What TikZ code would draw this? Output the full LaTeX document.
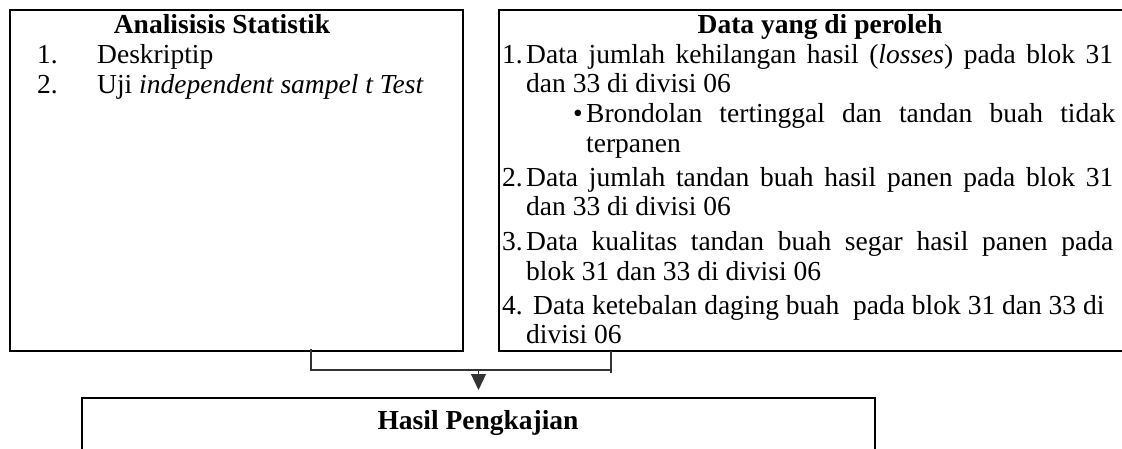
\documentclass[tikz,border=0pt]{standalone}
\usepackage{fontspec}
\setmainfont{Liberation Serif}
\usetikzlibrary{arrows.meta}
\newcommand\fs{\fontsize{27.5}{30}\selectfont}
\tikzset{
  box/.style={draw=black, line width=2pt, rectangle, inner sep=0pt},
  txt/.style={anchor=base west, inner sep=0pt, font=\fs},
  ttl/.style={anchor=base, inner sep=0pt, font=\fs\bfseries},
  conn/.style={draw=black!80, line width=1.2pt},
  arr/.style={conn, -{Triangle[width=15pt,length=16pt]}, shorten >=7pt}
}
\begin{document}
\begin{tikzpicture}[x=1pt,y=-1pt]
\useasboundingbox (0,0) rectangle (1122,448);
% boxes
\node[box, minimum width=453pt, minimum height=341pt] (L) at (236.5,180.5) {};
\node[box, minimum width=642pt, minimum height=341pt] (R) at (820,180.5) {};
\node[box, minimum width=793pt, minimum height=80pt] (B) at (478.5,438) {};
% left text
\node[ttl] (lt) at (222,33) {Analisisis Statistik};
\node[txt] (l1n) at (37,63) {1.};
\node[txt] (l1) at (97,63) {Deskriptip};
\node[txt] (l2n) at (37,93) {2.};
\node[txt] (l2) at (97,93) {Uji \textit{independent sampel t Test}};
% right text
\node[ttl] (rt) at (820,33) {Data yang di peroleh};
\node[txt] (r1n) at (502,63) {1.};
\node[txt] (r1a) at (526,63) {\makebox[587pt][s]{Data jumlah kehilangan hasil (\textit{losses}) pada blok 31}};
\node[txt] (r1b) at (526,92) {dan 33 di divisi 06};
\node[txt] (rbb) at (573,122) {\textbullet};
\node[txt] (rba) at (586,122) {\makebox[529pt][s]{Brondolan tertinggal dan tandan buah tidak}};
\node[txt] (rbc) at (586,152) {terpanen};
\node[txt] (r2n) at (502,186) {2.};
\node[txt] (r2a) at (526,186) {\makebox[587pt][s]{Data jumlah tandan buah hasil panen pada blok 31}};
\node[txt] (r2b) at (526,215) {dan 33 di divisi 06};
\node[txt] (r3n) at (502,250) {3.};
\node[txt] (r3a) at (526,250) {\makebox[587pt][s]{Data kualitas tandan buah segar hasil panen pada}};
\node[txt] (r3b) at (526,280) {blok 31 dan 33 di divisi 06};
\node[txt] (r4n) at (502,314) {4.};
\node[txt] (r4a) at (533,314) {Data ketebalan daging buah\ \ pada blok 31 dan 33 di};
\node[txt] (r4b) at (526,343) {divisi 06};
% bottom text
\node[ttl] (bt) at (478,429) {Hasil Pengkajian};
% connectors
\coordinate (ls) at (311,349);
\coordinate (rs) at (611,351);
\coordinate (rj) at (611,370);
\coordinate (rend) at (611,373);
\coordinate (aj) at (478.5,370);
\draw[conn] (ls) |- (rj);
\draw[conn] (rs) -- (rend);
\draw[arr] (aj) -- (B.north);
\end{tikzpicture}
\end{document}
